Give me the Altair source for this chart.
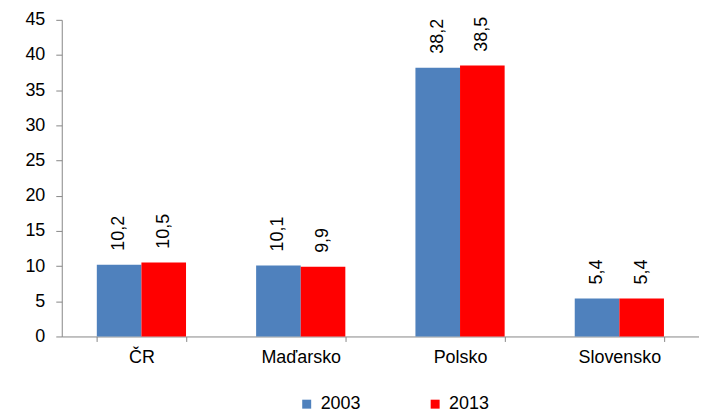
import altair as alt
import pandas as pd

countries = ["ČR", "Maďarsko", "Polsko", "Slovensko"]
years = ["2003", "2013"]
values_2003 = [10.2, 10.1, 38.2, 5.4]
values_2013 = [10.5, 9.9, 38.5, 5.4]
colors = ["#4F81BD", "#FF0000"]

rows = []
for c, a, b in zip(countries, values_2003, values_2013):
    rows.append({"country": c, "year": "2003", "value": a, "label": f"{a:.1f}".replace(".", ",")})
    rows.append({"country": c, "year": "2013", "value": b, "label": f"{b:.1f}".replace(".", ",")})
df = pd.DataFrame(rows)

FONT = "Liberation Sans"
FS = 18

x = alt.X("country:N", sort=countries, title=None,
          scale=alt.Scale(paddingInner=0.44, paddingOuter=0.22),
          axis=alt.Axis(labelAngle=0, tickBand="extent", tickSize=5, labelPadding=7,
                        domainColor="#868686", tickColor="#868686", labelOverlap=False,
                        labelFont=FONT, labelFontSize=FS, labelColor="#000000"))
y = alt.Y("value:Q", title=None,
          scale=alt.Scale(domain=[0, 45], nice=False),
          axis=alt.Axis(values=list(range(0, 50, 5)), grid=False, tickSize=6, labelPadding=11,
                        domainColor="#868686", tickColor="#868686", labelOverlap=False,
                        labelFont=FONT, labelFontSize=FS, labelColor="#000000"))
xo = alt.XOffset("year:N", sort=years)

bars = alt.Chart(df).mark_bar().encode(
    x=x, y=y, xOffset=xo,
    color=alt.Color("year:N", sort=years, title=None,
                    scale=alt.Scale(domain=years, range=colors),
                    legend=alt.Legend(orient="none", legendX=237, legendY=377,
                                      direction="horizontal", columns=2, columnPadding=65,
                                      symbolType="square", symbolSize=81, symbolStrokeWidth=0,
                                      labelOffset=5, labelFont=FONT, labelFontSize=FS,
                                      labelColor="#000000")),
)

labels = alt.Chart(df).mark_text(angle=270, align="left", baseline="middle", dx=14,
                                 font=FONT, fontSize=FS, color="#000000").encode(
    x=x, y=y, xOffset=xo, text="label:N"
)

chart = (bars + labels).properties(
    width=640, height=318,
    autosize=alt.AutoSizeParams(type="none"),
    padding={"left": 54, "top": 11, "right": 0, "bottom": 80},
).configure_view(stroke=None)

chart.save("out.html", embed_options={"renderer": "svg", "actions": False})
